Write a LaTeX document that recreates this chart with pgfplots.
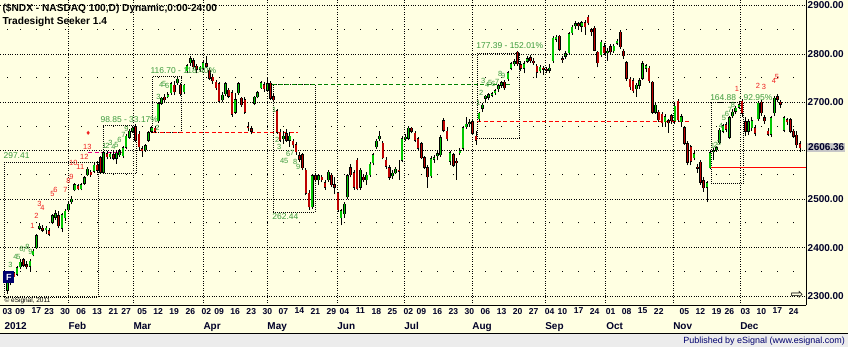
\documentclass[border=0pt]{standalone}
\usepackage{pgfplots}
\pgfplotsset{compat=1.18}
\usepackage{pgfplotstable}
\usepackage{fontspec}
\setmainfont{Liberation Sans}
\newfontfamily\djv{DejaVu Sans}
\newcommand\fs[1]{\fontsize{#1}{#1}\selectfont}
\definecolor{bg}{RGB}{255,255,226}
\definecolor{up}{RGB}{0,200,0}
\definecolor{dn}{RGB}{190,0,0}
\definecolor{cg}{RGB}{60,155,60}
\definecolor{cr}{RGB}{240,30,30}
\definecolor{dgreen}{RGB}{0,128,0}
\definecolor{navy}{RGB}{0,0,110}
\definecolor{band}{RGB}{236,236,236}
\definecolor{datec}{RGB}{0,0,40}

\pgfplotstableread{
i o h l c
0 2312 2336 2305 2329
1 2328 2350 2322 2347
2 2348 2352 2335 2340
3 2345 2362 2342 2358
4 2360 2376 2355 2370
5 2375 2378 2360 2364
6 2365 2372 2355 2361
7 2362 2376 2350 2372
8 2385 2397 2382 2393
9 2400 2428 2398 2425
10 2440 2450 2436 2444
11 2440 2446 2432 2436
12 2437 2445 2428 2440
13 2435 2440 2424 2428
14 2452 2470 2448 2466
15 2463 2478 2458 2470
16 2466 2476 2440 2445
17 2440 2472 2432 2468
18 2462 2480 2455 2475
19 2478 2495 2474 2490
20 2495 2506 2490 2500
21 2520 2534 2516 2530
22 2528 2532 2518 2522
23 2522 2533 2518 2530
24 2533 2548 2530 2544
25 2550 2566 2547 2562
26 2556 2560 2546 2550
27 2558 2575 2555 2570
28 2570 2578 2554 2560
29 2586 2590 2552 2556
30 2556 2598 2553 2596
31 2594 2600 2582 2588
32 2588 2598 2584 2593
33 2592 2600 2580 2585
34 2585 2600 2573 2595
35 2592 2603 2588 2598
36 2590 2610 2585 2606
37 2607 2635 2603 2630
38 2628 2645 2625 2640
39 2640 2652 2636 2646
40 2650 2655 2618 2622
41 2634 2640 2600 2608
42 2604 2610 2588 2600
43 2602 2614 2598 2610
44 2622 2640 2618 2637
45 2640 2652 2636 2648
46 2646 2652 2636 2640
47 2662 2700 2658 2697
48 2698 2712 2695 2708
49 2710 2718 2700 2705
50 2712 2722 2708 2716
51 2720 2742 2716 2738
52 2735 2745 2715 2722
53 2740 2752 2736 2748
54 2735 2740 2714 2718
55 2722 2738 2718 2735
56 2765 2780 2760 2776
57 2782 2795 2776 2790
58 2786 2792 2768 2773
59 2775 2780 2760 2768
60 2768 2776 2762 2772
61 2770 2786 2766 2782
62 2780 2795 2770 2775
63 2766 2770 2746 2750
64 2752 2758 2738 2745
65 2742 2746 2725 2730
66 2738 2742 2698 2702
67 2705 2722 2700 2715
68 2718 2742 2714 2738
69 2725 2730 2708 2713
70 2720 2725 2670 2675
71 2680 2720 2676 2705
72 2720 2742 2716 2738
73 2708 2712 2690 2695
74 2705 2710 2676 2680
75 2650 2660 2640 2648
76 2645 2652 2634 2640
77 2698 2714 2694 2710
78 2712 2724 2708 2720
79 2730 2745 2728 2740
80 2736 2742 2722 2728
81 2725 2752 2722 2738
82 2739 2745 2705 2708
83 2712 2720 2700 2705
84 2683 2686 2634 2638
85 2638 2645 2618 2622
86 2625 2640 2614 2630
87 2635 2645 2618 2622
88 2622 2638 2608 2630
89 2620 2625 2605 2612
90 2612 2618 2592 2598
91 2590 2598 2576 2582
92 2592 2596 2560 2565
93 2560 2564 2508 2512
94 2512 2518 2478 2484
95 2484 2552 2480 2548
96 2548 2555 2535 2540
97 2540 2552 2530 2548
98 2545 2550 2535 2540
99 2534 2540 2520 2525
100 2540 2560 2536 2556
101 2550 2555 2525 2530
102 2530 2545 2510 2525
103 2512 2515 2474 2478
104 2462 2480 2446 2476
105 2470 2494 2462 2490
106 2505 2552 2500 2548
107 2565 2572 2545 2550
108 2555 2560 2520 2525
109 2580 2585 2518 2522
110 2525 2565 2520 2560
111 2545 2552 2535 2540
112 2540 2556 2530 2550
113 2550 2576 2546 2572
114 2575 2596 2570 2592
115 2608 2624 2604 2620
116 2625 2640 2620 2630
117 2616 2620 2582 2586
118 2580 2588 2563 2568
119 2565 2570 2540 2545
120 2548 2560 2542 2554
121 2555 2566 2552 2562
122 2560 2580 2540 2558
123 2580 2630 2576 2625
124 2625 2635 2620 2628
125 2626 2650 2622 2646
126 2646 2650 2636 2640
127 2636 2640 2618 2622
128 2625 2628 2600 2605
129 2615 2618 2582 2586
130 2586 2590 2562 2566
131 2565 2570 2524 2546
132 2548 2590 2544 2584
133 2582 2592 2575 2586
134 2590 2600 2580 2594
135 2592 2632 2588 2627
136 2662 2668 2638 2642
137 2640 2650 2620 2625
138 2578 2600 2570 2596
139 2592 2596 2566 2570
140 2578 2585 2540 2575
141 2596 2606 2592 2600
142 2605 2652 2600 2648
143 2650 2670 2645 2655
144 2656 2665 2650 2658
145 2660 2665 2632 2636
146 2630 2640 2612 2622
147 2666 2680 2660 2677
148 2688 2698 2680 2694
149 2708 2716 2700 2713
150 2710 2720 2705 2716
151 2715 2722 2710 2718
152 2720 2728 2715 2724
153 2728 2738 2722 2734
154 2735 2745 2730 2740
155 2742 2746 2726 2730
156 2749 2764 2745 2761
157 2770 2784 2766 2780
158 2780 2790 2776 2784
159 2803 2806 2776 2780
160 2778 2785 2764 2770
161 2770 2786 2760 2780
162 2785 2795 2782 2790
163 2792 2797 2782 2786
164 2785 2792 2778 2782
165 2775 2780 2750 2762
166 2765 2778 2760 2772
167 2770 2776 2756 2768
168 2768 2774 2760 2766
169 2766 2780 2760 2770
170 2786 2836 2782 2832
171 2830 2840 2825 2834
172 2836 2840 2806 2810
173 2790 2796 2782 2788
174 2795 2806 2790 2800
175 2802 2846 2798 2842
176 2844 2860 2840 2855
177 2858 2868 2852 2862
178 2862 2866 2850 2858
179 2857 2868 2845 2864
180 2864 2870 2840 2856
181 2876 2880 2860 2864
182 2850 2854 2838 2846
183 2853 2858 2805 2808
184 2803 2806 2772 2782
185 2798 2828 2794 2824
186 2815 2822 2798 2802
187 2802 2812 2786 2805
188 2815 2820 2798 2804
189 2806 2820 2802 2816
190 2822 2830 2818 2826
191 2845 2850 2810 2815
192 2806 2810 2790 2796
193 2782 2786 2745 2750
194 2748 2752 2726 2732
195 2745 2750 2720 2724
196 2728 2740 2712 2735
197 2735 2750 2728 2745
198 2750 2786 2746 2780
199 2770 2780 2762 2776
200 2770 2775 2740 2745
201 2741 2745 2676 2680
202 2680 2698 2676 2694
203 2680 2684 2660 2664
204 2675 2680 2650 2658
205 2660 2676 2650 2670
206 2662 2666 2637 2658
207 2672 2676 2655 2662
208 2662 2700 2655 2692
209 2702 2706 2660 2664
210 2660 2676 2650 2670
211 2648 2652 2612 2616
212 2615 2620 2570 2576
213 2608 2612 2570 2578
214 2586 2600 2580 2594
215 2566 2572 2555 2564
216 2576 2580 2530 2535
217 2538 2545 2515 2524
218 2525 2538 2494 2534
219 2565 2600 2562 2596
220 2598 2606 2580 2600
221 2602 2610 2598 2606
222 2618 2646 2614 2642
223 2640 2655 2636 2652
224 2654 2660 2638 2644
225 2628 2672 2624 2668
226 2672 2686 2668 2680
227 2682 2692 2675 2688
228 2690 2702 2686 2695
229 2702 2706 2670 2677
230 2660 2670 2630 2640
231 2640 2666 2632 2660
232 2648 2670 2640 2662
233 2648 2654 2630 2636
234 2666 2702 2662 2698
235 2700 2704 2672 2678
236 2668 2674 2656 2662
237 2640 2646 2630 2634
238 2634 2672 2628 2668
239 2678 2714 2672 2708
240 2712 2718 2700 2706
241 2700 2704 2688 2696
242 2642 2672 2638 2668
243 2664 2668 2654 2660
244 2664 2668 2636 2640
245 2640 2645 2626 2630
246 2632 2640 2606 2612
247 2615 2620 2598 2606
}\ndx

\begin{document}
\begin{tikzpicture}
\begin{scope}[x=1bp,y=1bp]
\fill[bg] (0,0) rectangle (848,347);
\path[use as bounding box] (0,0) rectangle (848,347);
\fill[band] (0,0) rectangle (848,13.5);
\draw[black, line width=1.2bp] (0,14) -- (848,14);
\end{scope}

\begin{axis}[
  at={(0bp,42bp)}, anchor=south west,
  scale only axis, width=806bp, height=305bp,
  xmin=-2.18, xmax=248.9, ymin=2280.8, ymax=2910.3,
  axis x line*=bottom, axis y line*=right,
  axis line style={black, line width=0.8bp, -},
  major tick length=0pt, minor tick length=0pt,
  xtick={0,4,9,13,18,23,28,33,37,42,47,52,57,62,66,71,76,81,86,91,96,101,105,110,115,120,125,129,134,139,144,149,154,159,164,169,173,178,183,188,193,198,203,211,216,221,225,230,235,240,245},
  xticklabels={03,09,17,23,30,06,13,21,27,05,12,19,26,02,09,16,23,30,07,14,21,29,04,11,18,25,02,09,16,23,30,06,13,20,27,04,10,17,24,01,08,15,22,05,12,19,26,03,10,17,24},
  minor xtick={0,4,9,13,18,23,28,33,37,42,47,52,57,62,66,71,76,81,86,91,96,101,105,110,115,120,125,129,134,139,144,149,154,159,164,169,173,178,183,188,193,198,203,211,216,221,225,230,235,240,245},
  xminorgrids=true,
  minor grid style={black, line width=1bp, dash pattern=on 1bp off 47.45bp, dash phase=14.95bp},
  extra x ticks={19.0,39.25,61.06,81.0,102.8,123.7,144.9,167.6,186.5,207.5,228.4},
  extra x tick labels={},
  extra x tick style={grid=major},
  ytick={2300,2400,2500,2600,2700,2800,2900},
  yticklabels={2300.00,2400.00,2500.00,{},2700.00,2800.00,2900.00},
  ymajorgrids=true,
  major grid style={black, line width=0.8bp, dash pattern=on 0.8bp off 1.6bp},
  xticklabel style={font=\bfseries\fs{8.6}, text=datec, inner sep=1bp, yshift=-1.5bp},
  yticklabel style={font=\bfseries\fs{10}, text=datec, anchor=west, inner sep=1bp, xshift=0.5bp},
  clip=true,
]
% Seeker boxes
\addplot[black, line width=0.7bp, dash pattern=on 0.8bp off 1.2bp] coordinates {(-0.93,2297) (28.2,2297) (28.2,2576) (-0.93,2576) (-0.93,2297)};
\addplot[black, line width=0.7bp, dash pattern=on 0.8bp off 1.2bp] coordinates {(29.9,2553) (40.2,2553) (40.2,2652) (29.9,2652) (29.9,2553)};
\addplot[black, line width=0.7bp, dash pattern=on 0.8bp off 1.2bp] coordinates {(45.2,2638) (54.2,2638) (54.2,2753) (45.2,2753) (45.2,2638)};
\addplot[black, line width=0.7bp, dash pattern=on 0.8bp off 1.2bp] coordinates {(82.9,2473) (95.9,2473) (95.9,2737) (82.9,2737) (82.9,2473)};
\addplot[black, line width=0.7bp, dash pattern=on 0.8bp off 1.2bp] coordinates {(146.4,2626) (159.5,2626) (159.5,2801) (146.4,2801) (146.4,2626)};
\addplot[black, line width=0.7bp, dash pattern=on 0.8bp off 1.2bp] coordinates {(219.3,2533) (229.3,2533) (229.3,2700) (219.3,2700) (219.3,2533)};
% levels
\addplot[magenta, line width=1.6bp, dash pattern=on 4bp off 2.5bp] coordinates {(25.2,2596.6) (35.8,2596.6)};
\addplot[red, line width=1.6bp, dash pattern=on 4bp off 2.5bp] coordinates {(45.5,2638) (90.7,2638)};
\addplot[dgreen, line width=1.6bp, dash pattern=on 4bp off 2.5bp] coordinates {(82.6,2737) (157,2737)};
\addplot[red, line width=1.6bp, dash pattern=on 4bp off 2.5bp] coordinates {(146.4,2660.6) (212.8,2660.6)};
\addplot[red, line width=1.3bp] coordinates {(219.3,2565.6) (248.9,2565.6)};
% wicks
\addplot[draw=none, mark=none, error bars/.cd, y dir=plus, y explicit, error mark=none,
  error bar style={draw=black, solid, line width=0.7bp}]
  table[x=i, y=l, y error expr=\thisrow{h}-\thisrow{l}] {\ndx};
% body outlines
\addplot[draw=none, mark=none, error bars/.cd, y dir=plus, y explicit, error mark=none,
  error bar style={draw=black, solid, line width=2.6bp}]
  table[x=i, y expr={min(\thisrow{o},\thisrow{c})-1}, y error expr={abs(\thisrow{c}-\thisrow{o})+2}] {\ndx};
% up bodies
\addplot[draw=none, mark=none, error bars/.cd, y dir=plus, y explicit, error mark=none,
  error bar style={draw=up, solid, line width=1.5bp}]
  table[x=i, y expr={\thisrow{c}>=\thisrow{o} ? \thisrow{o} : nan}, y error expr={\thisrow{c}-\thisrow{o}}] {\ndx};
% down bodies
\addplot[draw=none, mark=none, error bars/.cd, y dir=plus, y explicit, error mark=none,
  error bar style={draw=dn, solid, line width=1.5bp}]
  table[x=i, y expr={\thisrow{c}<\thisrow{o} ? \thisrow{c} : nan}, y error expr={\thisrow{o}-\thisrow{c}}] {\ndx};
\end{axis}

\begin{scope}[x=1bp,y=1bp]
% titles
\node[anchor=base west, inner sep=0, font=\bfseries\fs{10.2}] at (2,336) {(\$NDX - NASDAQ 100,D) Dynamic,0:00-24:00};
\node[anchor=base west, inner sep=0, font=\bfseries\fs{10.2}] at (2,323) {Tradesight Seeker 1.4};

% month labels
\begin{scope}[every node/.style={anchor=base west, inner sep=0, font=\bfseries\fs{10}, text=datec}]
\node at (4,17.5) {2012};
\node at (68,17.5) {Feb};
\node at (133,17.5) {Mar};
\node at (203,17.5) {Apr};
\node at (267,17.5) {May};
\node at (337,17.5) {Jun};
\node at (404,17.5) {Jul};
\node at (472,17.5) {Aug};
\node at (545,17.5) {Sep};
\node at (606,17.5) {Oct};
\node at (673,17.5) {Nov};
\node at (740,17.5) {Dec};
\end{scope}

% current price marker
\node[anchor=west, fill=black!22, inner sep=1bp, font=\bfseries\fs{10}, text=datec] at (807,200) {2606.36};

% box labels
\begin{scope}[every node/.style={anchor=west, inner sep=0, font=\fs{8.5}, text=cg}]
\node at (3,192) {297.41};
\node at (100,228) {98.85 - 33.17\%};
\node at (150,277) {116.70 - 118.40\%};
\node at (272,131) {262.44};
\node at (476,302) {177.39 - 152.01\%};
\node at (710,250) {164.88 - 92.95\%};
\end{scope}

% red counts
\begin{scope}[every node/.style={inner sep=0, font=\fs{7.5}, text=cr}]
\node at (32,121) {1};
\node at (36,132) {2};
\node at (39,143) {3};
\node at (42,139) {4};
\node at (52,153) {5};
\node at (55,157) {6};
\node at (65,157) {7};
\node at (68,166) {8};
\node at (71,170) {9};
\node at (73,184) {10};
\node at (80,180) {11};
\node at (84,191) {12};
\node at (87,201) {13};
\node[font=\djv\fs{6}] at (88,214) {♦};
\node at (737,259) {1};
\node at (758,262) {2};
\node at (764,261) {3};
\node at (774,267) {4};
\node at (777,270) {5};
\end{scope}

% green counts
\begin{scope}[every node/.style={inner sep=0, font=\fs{7.5}, text=cg}]
\node at (10,82) {3};
\node at (15,90) {4};
\node at (18,90) {5};
\node at (21,98) {6};
\node at (24,97) {7};
\node at (27,100) {8};
\node at (30,95) {9};
\node at (104,202) {1};
\node at (107,202) {2};
\node at (110,205) {3};
\node at (113,201) {4};
\node at (116,202) {5};
\node at (119,208) {6};
\node at (123,213) {7};
\node at (126,219) {9};
\node at (157,220) {2};
\node at (158,251) {3};
\node at (161,263) {4};
\node at (164,263) {5};
\node at (167,262) {6};
\node at (274,238) {1};
\node at (277,208) {2};
\node at (279,201) {3};
\node at (282,186) {4};
\node at (286,186) {5};
\node at (288,194) {6};
\node at (292,194) {7};
\node at (295,185) {8};
\node at (298,180) {9};
\node at (478,245) {1};
\node at (481,255) {2};
\node at (483,267) {3};
\node at (487,263) {4};
\node at (490,264) {5};
\node at (493,264) {6};
\node at (497,266) {7};
\node at (500,274) {8};
\node at (503,272) {9};
\node at (713,202) {1};
\node at (716,203) {2};
\node at (719,205) {3};
\node at (721,222) {4};
\node at (724,229) {5};
\node at (727,234) {6};
\node at (730,238) {7};
\node at (733,243) {8};
\end{scope}

% F marker and copyright
\node[fill=navy, text=white, font=\bfseries\fs{9}, minimum width=11bp, minimum height=12bp, inner sep=0] at (8.5,70) {F};
\node[anchor=west, inner sep=0, font=\fs{6.5}] at (4,46.5) {© eSignal, 2011};
\node[inner sep=0, font=\djv\fs{15}] at (797,52) {⇨};

% footer
\node[anchor=east, inner sep=0, font=\fs{9}, text=navy] at (845,6.5) {Published by eSignal (www.esignal.com)};
\end{scope}
\end{tikzpicture}
\end{document}
